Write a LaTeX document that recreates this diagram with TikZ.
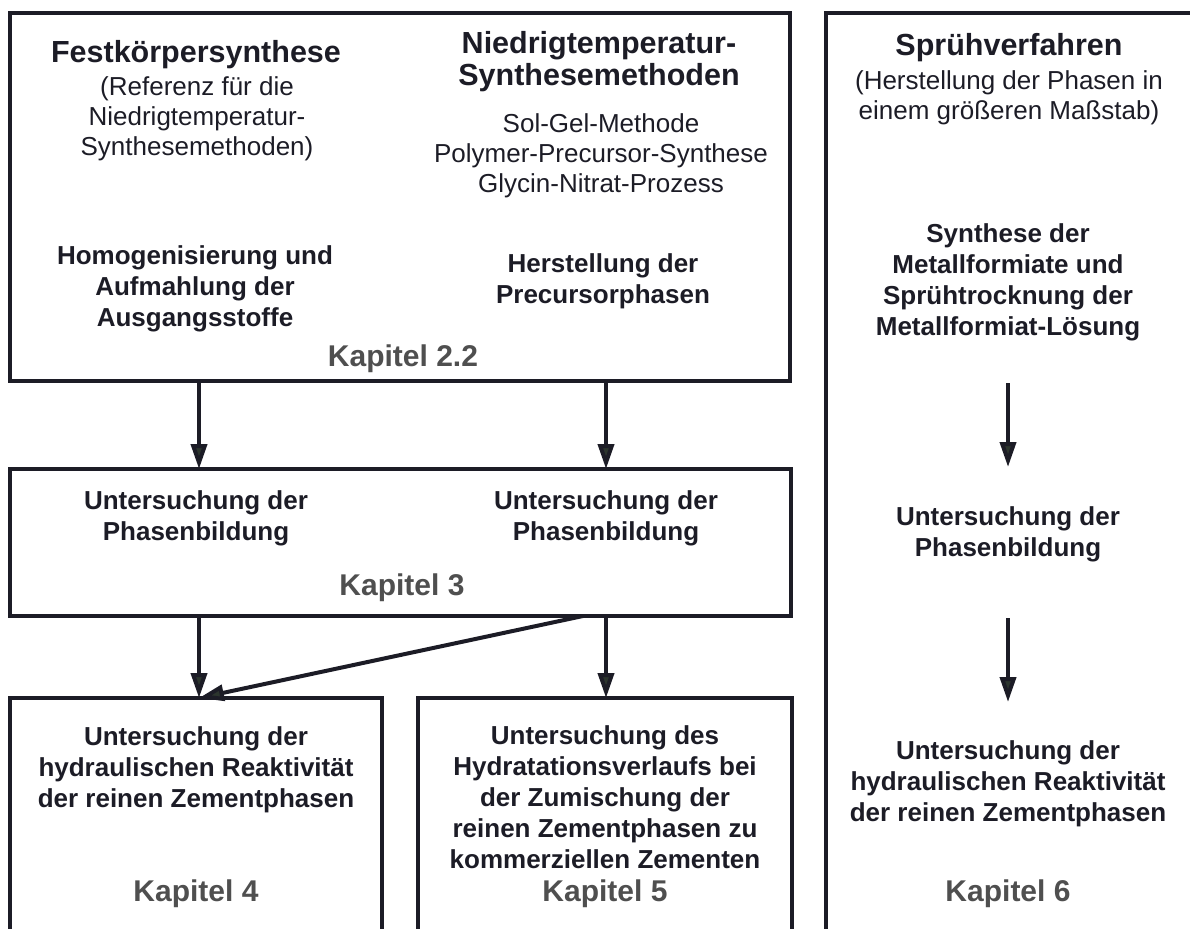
\documentclass[tikz,border=0pt]{standalone}
\usepackage{fontspec}
\setmainfont{Liberation Sans}
\usetikzlibrary{arrows.meta}
\definecolor{ink}{HTML}{1C1C26}
\definecolor{kapgray}{HTML}{4F4F4F}
\definecolor{tipfill}{HTML}{2C352E}
\begin{document}
\begin{tikzpicture}[x=1pt,y=-1pt,
  box/.style={draw=ink,line width=4.5pt,inner sep=0pt,outer sep=0pt},
  hd/.style={font=\bfseries\fontsize{30.5}{32}\selectfont,text=ink,align=center,inner sep=0pt,anchor=north},
  tx/.style={font=\fontsize{26}{30}\selectfont,text=ink,align=center,inner sep=0pt,anchor=north},
  bt/.style={font=\bfseries\fontsize{26}{31}\selectfont,text=ink,align=center,inner sep=0pt,anchor=north},
  kap/.style={font=\bfseries\fontsize{30}{34}\selectfont,text=kapgray,inner sep=0pt,anchor=north},
  arr/.style={draw=ink,line width=4pt,-{Triangle[length=25pt,width=16pt,fill=tipfill]}},
]
\useasboundingbox (0,0) rectangle (1190,928);
\clip (0,0) rectangle (1190,928);

% boxes
\node[box,minimum width=780pt,minimum height=368pt] (b1) at (400,197) {};
\node[box,minimum width=781pt,minimum height=147pt] (b2) at (400.5,542.5) {};
\node[box,minimum width=372pt,minimum height=282pt] (b4) at (196,839) {};
\node[box,minimum width=374pt,minimum height=282pt] (b5) at (605,839) {};
\node[box,minimum width=394pt,minimum height=967pt] (b6) at (1023,496.5) {};

% box 1
\node[hd] (fest) at (196,40) {Festkörpersynthese};
\node[tx] (ref) at (197,76) {(Referenz für die\\Niedrigtemperatur-\\Synthesemethoden)};
\node[hd] (nied) at (599,31) {Niedrigtemperatur-\\Synthesemethoden};
\node[tx] (meth) at (601,113) {Sol-Gel-Methode\\Polymer-Precursor-Synthese\\Glycin-Nitrat-Prozess};
\node[bt] (homo) at (195,245) {Homogenisierung und\\Aufmahlung der\\Ausgangsstoffe};
\node[bt] (prec) at (603,253) {Herstellung der\\Precursorphasen};
\node[kap] (k22) at (403,345) {Kapitel 2.2};

% box 2
\node[bt] (pb1) at (196,490) {Untersuchung der\\Phasenbildung};
\node[bt] (pb2) at (606,490) {Untersuchung der\\Phasenbildung};
\node[kap] (k3) at (402,574) {Kapitel 3};

% box 4
\node[bt] (hyd4) at (196,726) {Untersuchung der\\hydraulischen Reaktivität\\der reinen Zementphasen};
\node[kap] (k4) at (196,880) {Kapitel 4};

% box 5
\node[bt] (hyd5) at (605,725) {Untersuchung des\\Hydratationsverlaufs bei\\der Zumischung der\\reinen Zementphasen zu\\kommerziellen Zementen};
\node[kap] (k5) at (605,880) {Kapitel 5};

% box 6
\node[hd] (spr) at (1009,33) {Sprühverfahren};
\node[tx] (her) at (1009,70) {(Herstellung der Phasen in\\einem größeren Maßstab)};
\node[bt] (syn) at (1008,223) {Synthese der\\Metallformiate und\\Sprühtrocknung der\\Metallformiat-Lösung};
\node[bt] (pb3) at (1008,506) {Untersuchung der\\Phasenbildung};
\node[bt] (hyd6) at (1008,740) {Untersuchung der\\hydraulischen Reaktivität\\der reinen Zementphasen};
\node[kap] (k6) at (1008,880) {Kapitel 6};

% connector columns
\coordinate (cL) at (199,0);
\coordinate (cR) at (606,0);
\coordinate (cD) at (583,0);
\coordinate (r1a) at (1008,383);
\coordinate (r1b) at (1008,467);
\coordinate (r2a) at (1008,618);
\coordinate (r2b) at (1008,702);

\draw[arr] (b1.south -| cL) -- (b2.north -| cL);
\draw[arr] (b1.south -| cR) -- (b2.north -| cR);
\draw[arr] (b2.south -| cL) -- (b4.north -| cL);
\draw[arr] (b2.south -| cR) -- (b5.north -| cR);
\draw[arr] (b2.south -| cD) -- (b4.north -| cL);
\draw[arr] (r1a) -- (r1b);
\draw[arr] (r2a) -- (r2b);
\end{tikzpicture}
\end{document}
